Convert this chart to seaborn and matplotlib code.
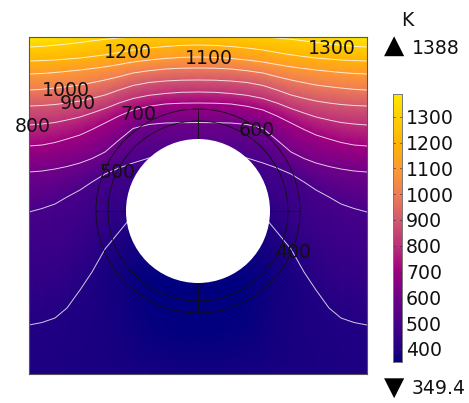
import numpy as np
import seaborn as sns
import matplotlib.pyplot as plt
from matplotlib.colors import LinearSegmentedColormap
from matplotlib.patches import Circle

sns.set_style("white")

W, H = 469, 403

# half of the plate, left edge to centre, mirrored below (px-like coordinates)
x_cols = [29, 42, 55, 67, 80, 92, 105, 119, 133, 149, 165, 181, 198]

# height of each isotherm in every column
iso_1388 = [37, 36, 35, 33, 30, 28, 26, 25, 24, 23, 22, 22, 22]
iso_1300 = [47, 46.3, 45.2, 44, 42.5, 40.8, 39.3, 38, 37, 35.5, 34, 33.3, 33]
iso_1200 = [61, 60.6, 60, 59, 58, 56.5, 54.8, 52.5, 50, 48, 46.5, 45.4, 45]
iso_1100 = [74, 73.5, 72.5, 71.3, 70, 68.5, 66.8, 64.5, 62, 60, 58.5, 57.4, 57]
iso_1000 = [90, 89.3, 88, 86.7, 85, 82.7, 80, 76.7, 73, 70.7, 69, 68.2, 68]
iso_900 = [106, 105.5, 104.5, 103, 101, 98.3, 95, 90, 85.5, 82.5, 81, 80.2, 80]
iso_800 = [125, 124, 122.5, 120, 117, 113, 108.5, 103, 98.5, 95.3, 93.5, 92.3, 92]
iso_700 = [146, 145, 142.5, 139, 135, 129.5, 123, 116, 110, 106.3, 104, 103.2, 103]
iso_600 = [172, 171, 169, 166.5, 163, 158.5, 152, 140, 128.5, 124.5, 123, 122.7, 122.5]
iso_500 = [212, 208.5, 204, 197, 190, 182, 174, 168, 163, 158, 155, 155, 155]
iso_400 = [325, 322.5, 318, 308, 290, 272, 249, 232, 215, 212, 212, 212, 212]
iso_heights = [iso_1388, iso_1300, iso_1200, iso_1100, iso_1000, iso_900, iso_800,
               iso_700, iso_600, iso_500, iso_400]
iso_temps = [1388, 1300, 1200, 1100, 1000, 900, 800, 700, 600, 500, 400]

# under the 400 K line the field is not monotonic, so these rows carry their own temperature
low1_y = [340, 335, 330, 322, 312, 298, 272, 268, 272, 280, 284, 285, 285]
low1_t = [394, 393, 392, 390, 388, 386, 382, 372, 360, 352, 350, 350, 350]
low2_y = [358, 355, 352, 348, 345, 340, 335, 330, 328, 328, 330, 330, 330]
low2_t = [392, 391, 390, 388, 386, 384, 380, 374, 366, 358, 354, 352, 352]
low3_y = [374, 374, 374, 374, 374, 374, 374, 374, 374, 374, 374, 374, 374]
low3_t = [388, 387, 386, 385, 384, 383, 382, 380, 378, 376, 374, 373, 372]

tick_vals = [1300, 1200, 1100, 1000, 900, 800, 700, 600, 500, 400]
t_min, t_max = 349.4, 1388

label_txt = ["1200", "1100", "1300", "1000", "900", "800", "700", "600", "500", "400"]
label_x = [128, 209, 332, 66, 78, 33, 139, 257, 118, 293]
label_y = [51, 56, 47, 88, 101, 125, 113, 128, 170, 251]

# colour stops
stop_vals = [349.4, 370, 400, 500, 600, 700, 800, 900, 1000, 1100, 1200, 1300, 1388]
stop_cols = ["#00007f", "#12007f", "#240083", "#48008a", "#700088", "#a0007f", "#bc3078",
             "#d2586e", "#ef7d55", "#ff9a30", "#ffb405", "#ffcf00", "#ffe600"]

pos = [(v - t_min) / (t_max - t_min) for v in stop_vals]
cmap = LinearSegmentedColormap.from_list("heat", list(zip(pos, stop_cols)), N=512)


def mirror(rows):
    rows = np.array(rows, dtype=float)
    return np.hstack([rows, rows[:, -2::-1]])


xs = np.array(x_cols + [396 - x for x in x_cols[-2::-1]], dtype=float)
n_cols = len(x_cols)
y_mesh = mirror(iso_heights + [low1_y, low2_y, low3_y])
t_mesh = mirror([[t] * n_cols for t in iso_temps] + [low1_t, low2_t, low3_t])
x_mesh = np.tile(xs, (y_mesh.shape[0], 1))

fig = plt.figure(figsize=(W / 100, H / 100), dpi=100)
ax = fig.add_axes([29 / W, 1 - 374 / H, 338 / W, 337 / H])
ax.pcolormesh(x_mesh, y_mesh, t_mesh, cmap=cmap, vmin=t_min, vmax=t_max, shading="gouraud", rasterized=True)
for row in y_mesh[1:len(iso_temps)]:
    ax.plot(xs, row, color="white", lw=0.7, alpha=0.8, zorder=2)
ax.set_xlim(29, 367)
ax.set_ylim(374, 37)
ax.set_xticks([])
ax.set_yticks([])
for s in ax.spines.values():
    s.set_color("#555555")
    s.set_linewidth(0.8)

# cylinder and the two rings around it
cx, cy = 198, 211
for r in (102, 90):
    ax.add_patch(Circle((cx, cy), r, fill=False, ec="#111111", lw=0.6, zorder=3))
for dx, dy in ((0, 1), (0, -1), (1, 0), (-1, 0)):
    ax.plot([cx + 72 * dx, cx + 102 * dx], [cy + 72 * dy, cy + 102 * dy], color="#111111", lw=0.6, zorder=3)
ax.add_patch(Circle((cx, cy), 72, fc="white", ec="none", zorder=4))


# text is placed in figure pixels so that it can stick out of the plot
def put(x, y, s, **kw):
    fig.text(x / W, 1 - (y + 2) / H, s, fontsize=13.6, color="#111111", va="center", zorder=10, **kw)


for s, x, y in zip(label_txt, label_x, label_y):
    put(x, y, s, ha="center")

# colour bar
cax = fig.add_axes([393 / W, 1 - 362 / H, 9 / W, 268 / H])
bar = np.linspace(t_max, t_min, 256).reshape(-1, 1)
sns.heatmap(bar, ax=cax, cmap=cmap, vmin=t_min, vmax=t_max, cbar=False, xticklabels=False, yticklabels=False)
for s in cax.spines.values():
    s.set_visible(True)
    s.set_color("#777777")
    s.set_linewidth(0.7)
for v in tick_vals:
    yy = 94 + (t_max - v) / (t_max - t_min) * 268
    for x0, x1 in ((393, 395), (400, 402)):
        cax.plot([(x0 - 393) / 9, (x1 - 393) / 9], [(yy - 94) / 268 * 256] * 2, color="#333333", lw=0.5)
    put(406, yy, str(v), ha="left")

put(407, 18, "K", ha="center")
put(412, 46, "1388", ha="left")
put(412, 386, "349.4", ha="left")
fig.text(394 / W, 1 - 46 / H, "▲", fontsize=19, color="black", ha="center", va="center")
fig.text(394 / W, 1 - 388 / H, "▼", fontsize=19, color="black", ha="center", va="center")

fig.savefig("out.png", dpi=100)
